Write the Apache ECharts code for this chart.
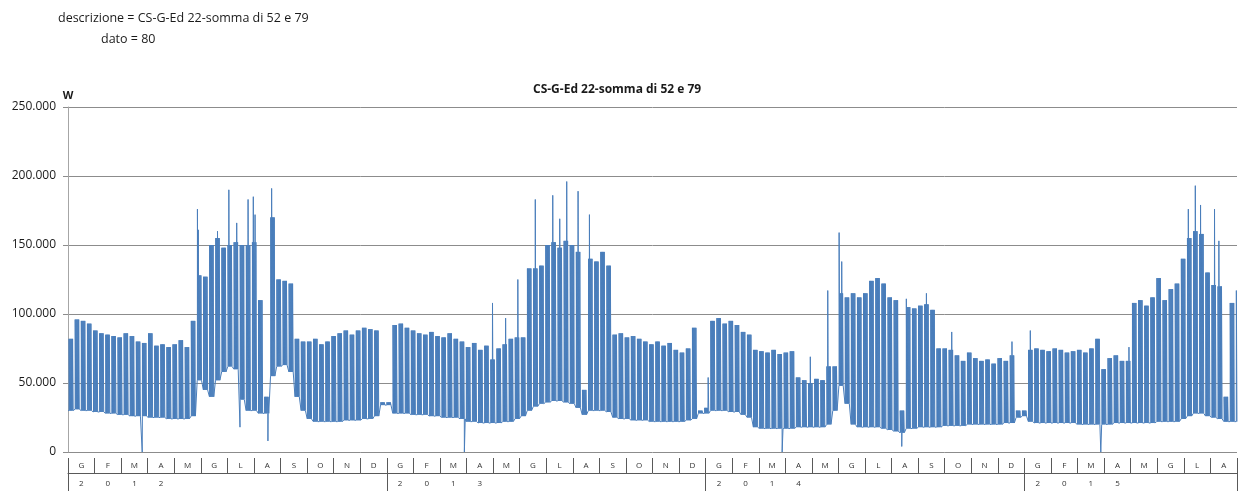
<!DOCTYPE html>
<html><head><meta charset="utf-8">
<script src="https://cdn.jsdelivr.net/npm/echarts/dist/echarts.min.js"></script>
<style>html,body{margin:0;padding:0;background:#fff;overflow:hidden}#c{width:1240px;height:491px}</style>
</head><body><div id="c"></div>
<script>
// ---- labels ----
const monthLetters = ['G','F','M','A','M','G','L','A','S','O','N','D'];
const years = ['2012','2013','2014','2015'];
const monthsShown = [12,12,12,8];
const yTickLabels = ['0','50.000','100.000','150.000','200.000','250.000'];

// ---- weekly working-day peak levels (kW), weeks Mon-Sun, week 0 = Sun 1 Jan 2012 ----
const peak2012 = [30,82,96,95,93,88,86,85,84,83,
  86,84,80,79,86,77,78,76,78,81,
  76,95,128,127,150,155,148,150,152,150,
  150,152,110,40,170,125,124,122,82,80,
  80,82,78,80,84,86,88,85,88,90,
  89,88,36];
const peak2013 = [36,92,93,90,88,86,85,87,84,83,
  86,82,80,76,79,74,77,67,75,78,
  82,83,83,133,133,135,150,152,148,153,
  150,145,45,140,138,145,135,85,86,83,
  84,82,80,78,80,77,79,74,72,75,
  90,30];
const peak2014 = [32,95,97,93,95,92,87,85,74,73,
  72,74,71,72,73,54,52,50,53,52,
  62,62,115,112,115,112,115,124,126,122,
  112,110,30,105,104,106,107,103,75,75,
  74,70,66,72,68,66,67,64,68,66,
  70,30,30];
const peak2015 = [74,75,74,73,75,74,72,73,74,72,
  75,82,60,68,70,66,66,108,110,106,
  112,126,110,118,122,140,155,160,158,130,
  121,120,40,108,117];

// ---- weekly night base levels (kW) ----
const base2012 = [30,30,31,30,30,29,29,28,28,27,
  27,26,26,26,25,25,25,24,24,24,
  24,26,52,45,40,52,58,62,60,38,
  30,30,28,28,55,62,63,58,40,30,
  24,22,22,22,22,22,23,23,23,24,
  24,26,34];
const base2013 = [34,28,28,28,27,27,27,26,26,25,
  25,25,24,22,22,21,21,21,21,22,
  22,24,26,30,33,35,36,37,37,36,
  35,32,27,30,30,30,29,25,24,24,
  23,23,23,22,22,22,22,22,22,23,
  24,28];
const base2014 = [28,30,30,30,29,29,27,25,18,17,
  17,17,17,17,17,18,18,18,18,18,
  20,30,48,35,20,18,18,18,18,17,
  16,15,14,17,17,18,18,18,18,19,
  19,19,19,20,20,20,20,20,20,21,
  21,25,26];
const base2015 = [22,21,21,21,21,21,21,21,20,20,
  20,20,20,20,21,21,21,21,21,21,
  21,22,22,22,22,24,26,28,28,26,
  25,24,22,22,22];

// ---- single-day spikes [week, weekday 0=Mon, kW] ----
const spikes = [[22,0,176],[22,1,161],[25,2,160],[27,1,190],[28,3,166],[30,2,183],[31,1,185],[31,3,172],[34,1,191],
  [70,2,108],[72,3,97],[74,3,125],[77,2,183],[80,1,186],[81,2,169],[82,3,196],[84,2,189],[86,1,172],
  [105,4,54],[122,2,69],[125,1,117],[127,0,159],[127,3,138],[138,0,111],[141,2,115],[145,3,87],[155,2,80],
  [158,2,88],[174,3,76],[184,1,176],[185,2,193],[186,1,179],[188,3,176],[189,1,153]];
// ---- drops [day index from 1 Jan 2012, kW] ----
const dips = [[85,0],[197,18],[229,8],[454,0],[818,0],[955,4],[1183,0]];
const nDays = 1339;

// ---- build ----
const peaks = [].concat(peak2012, peak2013, peak2014, peak2015);
const bases = [].concat(base2012, base2013, base2014, base2015);
const spikeMap = {}; spikes.forEach(s => { spikeMap[7*s[0]-6+s[1]] = s[2]; });
const dipMap = {}; dips.forEach(d => { dipMap[d[0]] = d[1]; });
const isActive = (d) => { const dow = d % 7; return (dow >= 1 && dow <= 5) || (d in spikeMap); };
const pts = [];
for (let d = 0; d < nDays; d++) {
  const w = Math.floor((d + 6) / 7);
  const b = bases[w] * 1000;
  pts.push([d, d in dipMap ? dipMap[d] * 1000 : b]);
  if (isActive(d)) {
    const p = (d in spikeMap ? spikeMap[d] : peaks[w]) * 1000;
    if (d === 0 || !isActive(d - 1)) {
      // close the flat idle run, then start a fresh stroke at the rise
      pts.push([d + 0.2, b], [d + 0.2, null]);
    }
    pts.push([d + 0.2, b], [d + 0.25, p], [d + 0.9, p], [d + 0.95, b]);
  }
}
pts.push([nDays, bases[bases.length - 1] * 1000]);

const monthCats = [], yearCats = [];
years.forEach((y, yi) => {
  for (let m = 0; m < monthsShown[yi]; m++) {
    monthCats.push(monthLetters[m]);
    yearCats.push(m < 4 ? y[m] : '');
  }
});

const FONT = 'Open Sans';
const TXT = '#1a1a1a';
const SEP = '#595959';
const chart = echarts.init(document.getElementById('c'), null, {renderer: 'canvas'});
chart.setOption({
  animation: false,
  title: [
    {text: 'CS-G-Ed 22-somma di 52 e 79', left: 528, top: 79,
     textStyle: {fontFamily: FONT, fontSize: 12, fontWeight: 'bold', color: TXT}},
    {text: 'descrizione = CS-G-Ed 22-somma di 52 e 79', left: 53, top: 7,
     textStyle: {fontFamily: FONT, fontSize: 12.5, fontWeight: 'normal', color: TXT}},
    {text: 'dato = 80', left: 96, top: 28,
     textStyle: {fontFamily: FONT, fontSize: 12.5, fontWeight: 'normal', color: TXT}}
  ],
  grid: [
    {left: 68, right: 3, top: 107, height: 345},
    {left: 68, right: 3, top: 458, height: 15},
    {left: 68, right: 3, top: 473, height: 30}
  ],
  xAxis: [
    {type: 'value', gridIndex: 0, min: 0, max: nDays, show: false},
    {type: 'category', gridIndex: 1, position: 'bottom', data: monthCats, boundaryGap: true,
     axisLine: {show: true, lineStyle: {color: SEP, width: 1}},
     axisTick: {show: false},
     axisLabel: {show: true, inside: true, interval: 0, margin: 3, fontSize: 8, fontFamily: FONT, color: '#333'},
     splitLine: {show: true, interval: 0, lineStyle: {color: SEP, width: 1}}},
    {type: 'category', gridIndex: 2, position: 'top', data: yearCats, boundaryGap: true,
     axisLine: {show: false},
     axisTick: {show: false},
     axisLabel: {show: true, inside: true, interval: 0, margin: 7, fontSize: 8, fontFamily: FONT, color: '#333'},
     splitLine: {show: true, interval: (i) => i % 12 === 0, lineStyle: {color: SEP, width: 1}}}
  ],
  yAxis: [
    {type: 'value', gridIndex: 0, min: 0, max: 250000, interval: 50000,
     name: 'W', nameLocation: 'end', nameGap: 6,
     nameTextStyle: {fontFamily: FONT, fontWeight: 'bold', fontSize: 11, color: TXT, align: 'center'},
     axisLine: {show: true, lineStyle: {color: '#a6a6a6'}},
     axisTick: {show: true, length: 5, lineStyle: {color: '#8c8c8c'}},
     axisLabel: {margin: 12, fontFamily: FONT, fontSize: 12, color: TXT,
       formatter: (v) => yTickLabels[Math.round(v / 50000)]},
     splitLine: {show: true, lineStyle: {color: '#8c8c8c', width: 1}}},
    {type: 'value', gridIndex: 1, show: false},
    {type: 'value', gridIndex: 2, show: false}
  ],
  series: [{type: 'line', xAxisIndex: 0, yAxisIndex: 0, data: pts, showSymbol: false, symbol: 'none',
    connectNulls: false, lineStyle: {color: '#4a7ebb', width: 1}, silent: true, z: 3}]
});
</script>
</body></html>
